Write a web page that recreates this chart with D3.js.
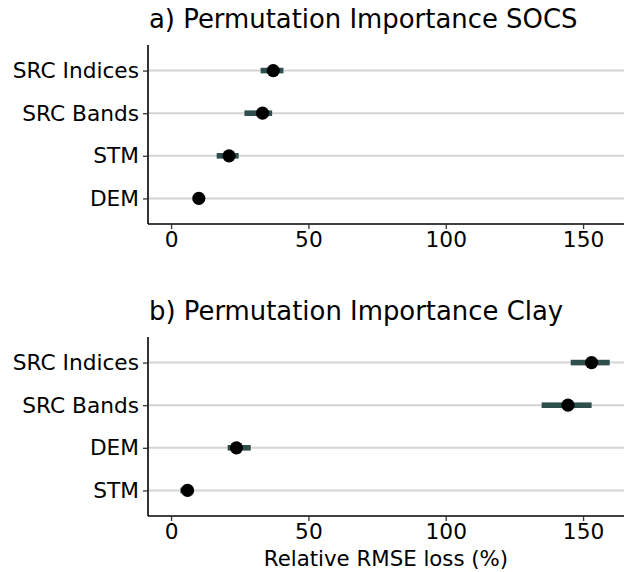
<!DOCTYPE html>
<html>
<head>
<meta charset="utf-8">
<script src="https://cdn.jsdelivr.net/npm/d3@7"></script>
<style>
  html, body { margin: 0; padding: 0; background: #ffffff; }
  svg { display: block; font-family: "DejaVu Sans", sans-serif; }
</style>
</head>
<body>
<svg id="chart" width="624" height="572"></svg>
<script>
// Permutation importance (relative RMSE loss, %) with uncertainty ranges
const socsVars = ["SRC Indices", "SRC Bands", "STM", "DEM"];
const socsImportance = [37.2, 33.3, 21.1, 10.1];
const socsLower = [32.6, 26.7, 16.6, 8.8];
const socsUpper = [40.9, 36.8, 24.6, 11.4];

const clayVars = ["SRC Indices", "SRC Bands", "DEM", "STM"];
const clayImportance = [153.1, 144.5, 23.8, 6.0];
const clayLower = [145.5, 134.9, 20.6, 3.4];
const clayUpper = [159.7, 153.1, 29.0, 7.8];

const xTicks = [0, 50, 100, 150];
const panelTitles = ["a) Permutation Importance SOCS", "b) Permutation Importance Clay"];
const xAxisTitle = "Relative RMSE loss (%)";

const svg = d3.select("#chart");
const W = 624;
const left = 148, right = W;

const x = d3.scaleLinear().domain([-8.4, 164.9]).range([left, right]);

const panels = [
  { title: panelTitles[0], vars: socsVars, imp: socsImportance, lo: socsLower, hi: socsUpper, top: 45, bottom: 224, titleY: 28.3, xlab: false },
  { title: panelTitles[1], vars: clayVars, imp: clayImportance, lo: clayLower, hi: clayUpper, top: 337, bottom: 516, titleY: 319.5, xlab: true }
];

panels.forEach(p => {
  const g = svg.append("g");
  const y = d3.scalePoint().domain(p.vars).range([p.top, p.bottom]).padding(0.6);

  // horizontal grid lines at each variable
  g.selectAll("line.grid").data(p.vars).enter().append("line")
    .attr("class", "grid")
    .attr("x1", left).attr("x2", right)
    .attr("y1", d => y(d)).attr("y2", d => y(d))
    .attr("stroke", "#d4d4d4").attr("stroke-width", 2);

  // y axis
  const yAxis = d3.axisLeft(y).tickSize(5).tickPadding(4);
  const ya = g.append("g").attr("transform", `translate(${left},0)`).call(yAxis);
  ya.select(".domain").attr("stroke", "#000").attr("stroke-width", 1.6).attr("d", `M0,${p.top}V${p.bottom}`);
  ya.selectAll(".tick line").attr("stroke", "#333").attr("stroke-width", 1.3);
  ya.selectAll(".tick text").attr("font-size", 21.7).attr("fill", "#000")
    .attr("font-family", "DejaVu Sans");

  // x axis
  const xAxis = d3.axisBottom(x).tickValues(xTicks).tickSize(5).tickPadding(3);
  const xa = g.append("g").attr("transform", `translate(0,${p.bottom})`).call(xAxis);
  xa.select(".domain").attr("stroke", "#000").attr("stroke-width", 1.6).attr("d", `M${left},0H${right}`);
  xa.selectAll(".tick line").attr("stroke", "#333").attr("stroke-width", 1.3);
  xa.selectAll(".tick text").attr("font-size", 21.7).attr("fill", "#000")
    .attr("font-family", "DejaVu Sans");

  // uncertainty bars
  g.selectAll("rect.range").data(p.vars).enter().append("rect")
    .attr("class", "range")
    .attr("x", (d, i) => x(p.lo[i]))
    .attr("width", (d, i) => x(p.hi[i]) - x(p.lo[i]))
    .attr("y", d => y(d) - 2.8).attr("height", 5.6)
    .attr("fill", "#2f4f4f");

  // point estimates
  g.selectAll("circle.pt").data(p.vars).enter().append("circle")
    .attr("class", "pt")
    .attr("cx", (d, i) => x(p.imp[i]))
    .attr("cy", d => y(d))
    .attr("r", 6.6)
    .attr("fill", "#000");

  // panel title
  g.append("text")
    .attr("x", left + 1).attr("y", p.titleY)
    .attr("font-size", 25.9).attr("fill", "#000")
    .text(p.title);

  if (p.xlab) {
    g.append("text")
      .attr("x", (left + right) / 2).attr("y", 566)
      .attr("text-anchor", "middle")
      .attr("font-size", 21.3).attr("fill", "#000")
      .text(xAxisTitle);
  }
});
</script>
</body>
</html>
